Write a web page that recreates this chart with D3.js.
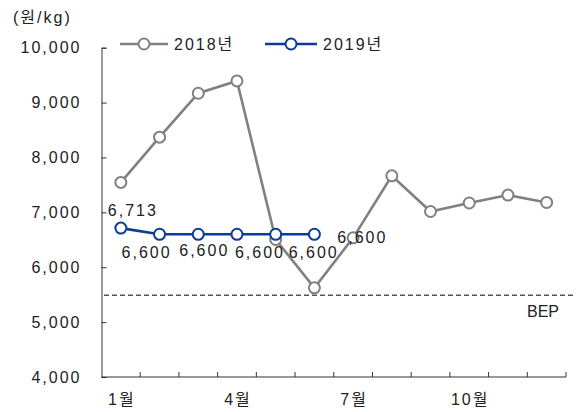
<!DOCTYPE html>
<html><head><meta charset="utf-8">
<script src="https://cdn.jsdelivr.net/npm/d3@7"></script>
<style>
body{margin:0;background:#fff;}
svg{display:block;font-family:"Liberation Sans","Noto Sans CJK KR",sans-serif;}
text{fill:#222;font-size:16px;letter-spacing:2px;}
</style></head>
<body><svg id="c" width="576" height="412"></svg>
<script>
const months = ["1월","2월","3월","4월","5월","6월","7월","8월","9월","10월","11월","12월"];
const monthTickLabels = ["1월","4월","7월","10월"];
const series2018 = [7545, 8370, 9170, 9395, 6505, 5625, 6535, 7665, 7015, 7170, 7315, 7180];
const series2019 = [6713, 6600, 6600, 6600, 6600, 6600];
const labels2019 = ["6,713","6,600","6,600","6,600","6,600","6,600"];
const yTicks = [4000, 5000, 6000, 7000, 8000, 9000, 10000];
const bep = 5490;
const seriesNames = ["2018년","2019년"];
const unitLabel = "(원/kg)";

const svg = d3.select("#c");
const x = d3.scaleBand().domain(months).range([101.5, 566]);
const y = d3.scaleLinear().domain([4000, 10000]).range([377, 47.7]);
const cx = m => x(m) + x.bandwidth() / 2;
const gray = "#808080", blue = "#0b3d98";

// y axis
const ya = svg.append("g").attr("transform", "translate(101.5,0)")
  .call(d3.axisLeft(y).tickValues(yTicks).tickSize(-5).tickPadding(20).tickFormat(d3.format(",")));
ya.select(".domain").attr("stroke", "#333");
ya.selectAll(".tick line").attr("stroke", "#333");
ya.selectAll("text").attr("font-size", 16).attr("font-family", null).attr("fill", "#222");

// x axis line and ticks at band boundaries
svg.append("line").attr("x1", 101.5).attr("x2", 566).attr("y1", y(4000)).attr("y2", y(4000)).attr("stroke", "#333");
svg.selectAll(".xt").data(months).enter().append("line")
  .attr("x1", m => x(m) + x.bandwidth()).attr("x2", m => x(m) + x.bandwidth())
  .attr("y1", y(4000)).attr("y2", y(4000) - 5).attr("stroke", "#333");
svg.selectAll(".xl").data(monthTickLabels).enter().append("text")
  .attr("x", m => cx(m) + 1).attr("y", 405).attr("text-anchor", "middle").text(d => d);

// unit label
svg.append("text").attr("x", 13).attr("y", 23).text(unitLabel);

// BEP line
svg.append("line").attr("x1", 104).attr("x2", 576).attr("y1", y(bep)).attr("y2", y(bep))
  .attr("stroke", "#555").attr("stroke-width", 1.5).attr("stroke-dasharray", "5,3");
svg.append("text").attr("x", 559).attr("y", y(bep) + 22).attr("text-anchor", "end")
  .style("letter-spacing", "0px").text("BEP");

const line = d3.line().x((d, i) => cx(months[i])).y(d => y(d));
function drawSeries(data, color) {
  svg.append("path").datum(data).attr("d", line).attr("fill", "none")
    .attr("stroke", color).attr("stroke-width", 2.6);
  svg.selectAll(null).data(data).enter().append("circle")
    .attr("cx", (d, i) => cx(months[i])).attr("cy", d => y(d)).attr("r", 5.5)
    .attr("fill", "#fff").attr("stroke", color).attr("stroke-width", 2);
}
drawSeries(series2018, gray);
drawSeries(series2019, blue);

// data labels for 2019 (manual placements as in the original)
const labelOffsets = [[11, -12], [-14, 24], [5, 22], [22, 24], [37, 24], [47, 9]];
svg.selectAll(".dl").data(series2019).enter().append("text")
  .attr("x", (d, i) => cx(months[i]) + labelOffsets[i][0] + 1)
  .attr("y", (d, i) => y(d) + labelOffsets[i][1])
  .attr("text-anchor", "middle").text((d, i) => labels2019[i]);

// legend
const legend = [[120, 168, gray, seriesNames[0]], [265, 317, blue, seriesNames[1]]];
legend.forEach(([x1, x2, c, name]) => {
  svg.append("line").attr("x1", x1).attr("x2", x2).attr("y1", 44).attr("y2", 44)
    .attr("stroke", c).attr("stroke-width", 2.6);
  svg.append("circle").attr("cx", (x1 + x2) / 2).attr("cy", 44).attr("r", 5.5)
    .attr("fill", "#fff").attr("stroke", c).attr("stroke-width", 2);
  svg.append("text").attr("x", x2 + 6).attr("y", 50).text(name);
});
</script></body></html>
